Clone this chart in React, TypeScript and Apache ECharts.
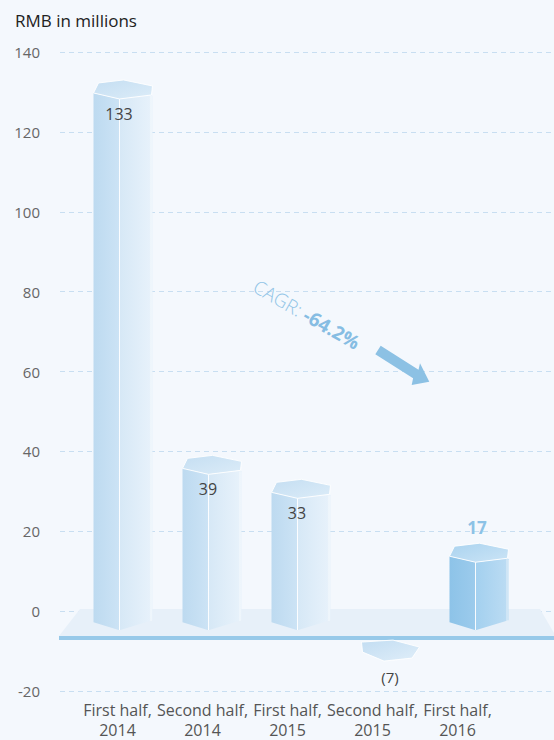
import React, { useEffect, useRef } from 'react';
import * as echarts from 'echarts';

const categories = [
  'First half,\n2014',
  'Second half,\n2014',
  'First half,\n2015',
  'Second half,\n2015',
  'First half,\n2016',
];
const values = [133, 39, 33, -7, 17];
const valueLabels = ['133', '39', '33', '(7)', '17'];
const highlightIndex = 4;
const yMin = -20;
const yMax = 140;
const yInterval = 20;
const axisTitle = 'RMB in millions';
const cagrText = 'CAGR: ';
const cagrValue = '-64.2%';

const FONT = "'Open Sans', 'Noto Sans', sans-serif";

function lg(x2: number, y2: number, c1: string, c2: string) {
  return new echarts.graphic.LinearGradient(0, 0, x2, y2, [
    { offset: 0, color: c1 },
    { offset: 1, color: c2 },
  ]);
}

export default function App() {
  const ref = useRef<HTMLDivElement>(null);
  useEffect(() => {
    if (!ref.current) return;
    const chart = echarts.init(ref.current, null, { renderer: 'svg' });
    const renderItem = (params: any, api: any) => {
      const idx = api.value(0);
      const v = api.value(1);
      const p = api.coord([idx, v]);
      const cx = p[0];
      const T = p[1];
      const y0 = api.coord([idx, 0])[1];
      const hl = idx === highlightIndex;
      const L = cx - 29.5;
      const R = cx + 29.5;
      const M = cx - 3.5;
      const children: any[] = [];
      const edge = { stroke: 'rgba(255,255,255,0.9)', lineWidth: 1 };
      if (v >= 0) {
        const B = y0 + 19;
        const leftFill = hl ? lg(1, 0, '#8dc3e8', '#9ccbec') : lg(1, 0, '#bddaf0', '#cce3f5');
        const rightFill = hl ? lg(1, 0, '#a3d0ef', '#bcdcf3') : lg(1, 0, '#d6e8f6', '#e8f2fb');
        const topFill = hl ? lg(1, 1, '#aad3ef', '#cbe4f6') : lg(1, 1, '#c4def2', '#dcecf8');
        children.push({
          type: 'polygon',
          shape: { points: [[L, T + 13], [M, T + 19], [M, B], [L, B - 8]] },
          style: { fill: leftFill },
        });
        children.push({
          type: 'polygon',
          shape: { points: [[M, T + 19], [R - 1, T + 15], [R, T + 16], [R, B - 10], [M, B]] },
          style: { fill: rightFill },
        });
        children.push({
          type: 'line',
          shape: { x1: M, y1: T + 19, x2: M, y2: B },
          style: edge,
        });
        children.push({
          type: 'line',
          shape: { x1: R - 1.5, y1: T + 16, x2: R - 1.5, y2: B - 9 },
          style: { stroke: 'rgba(255,255,255,0.6)', lineWidth: 1 },
        });
        children.push({
          type: 'polygon',
          shape: {
            points: [[L, T + 13], [L + 5, T + 3], [L + 30, T], [R, T + 6], [R - 1, T + 15], [M, T + 19]],
          },
          style: { fill: topFill, stroke: 'rgba(255,255,255,0.9)', lineWidth: 1 },
        });
        if (hl) {
          children.push({
            type: 'text',
            x: cx - 2,
            y: T - 16,
            style: {
              text: valueLabels[idx],
              fill: '#8cc2e6',
              font: `bold 17px ${FONT}`,
              align: 'center',
              verticalAlign: 'middle',
            },
          });
        } else {
          children.push({
            type: 'text',
            x: cx - 4,
            y: T + 34,
            style: {
              text: valueLabels[idx],
              fill: '#444444',
              font: `16px ${FONT}`,
              align: 'center',
              verticalAlign: 'middle',
            },
          });
        }
      } else {
        children.push({
          type: 'polygon',
          shape: {
            points: [[L + 1, T + 3], [L + 2, T + 13], [cx - 6, T + 22], [cx + 22, T + 19], [R, T + 8], [cx + 3, T + 1]],
          },
          style: { fill: lg(1, 1, '#c2ddf2', '#e0eef9'), stroke: 'rgba(255,255,255,0.9)', lineWidth: 1 },
        });
        children.push({
          type: 'text',
          x: cx,
          y: T + 38,
          style: {
            text: valueLabels[idx],
            fill: '#444444',
            font: `15px ${FONT}`,
            align: 'center',
            verticalAlign: 'middle',
          },
        });
      }
      return { type: 'group', children };
    };

    chart.setOption({
      animation: false,
      backgroundColor: '#f4f8fd',
      textStyle: { fontFamily: FONT },
      title: {
        text: axisTitle,
        left: 10,
        top: 7,
        textStyle: { fontSize: 17, color: '#222222', fontWeight: 'normal', fontFamily: FONT },
      },
      grid: [
        { left: 60, right: 0, top: 52, bottom: 49 },
        { left: 78.5, right: 30.5, top: 52, bottom: 49 },
        { left: 75, right: 54, top: 52, bottom: 49 },
      ],
      xAxis: [
        { type: 'category', gridIndex: 0, data: categories, show: false },
        { type: 'category', gridIndex: 1, data: categories, show: false },
        {
          type: 'category',
          gridIndex: 2,
          data: categories,
          axisLine: { show: false },
          axisTick: { show: false },
          axisLabel: {
            interval: 0,
            margin: 10,
            fontSize: 16,
            lineHeight: 20,
            color: '#555555',
            fontFamily: FONT,
          },
        },
      ],
      yAxis: [
        {
          type: 'value',
          gridIndex: 0,
          min: yMin,
          max: yMax,
          interval: yInterval,
          axisLine: { show: false },
          axisTick: { show: false },
          axisLabel: { margin: 20, fontSize: 15, color: '#666666', fontFamily: FONT },
          splitLine: { lineStyle: { color: '#c8def1', type: [5, 4], width: 1 } },
        },
        { type: 'value', gridIndex: 1, min: yMin, max: yMax, interval: yInterval, show: false, splitLine: { show: false } },
        { type: 'value', gridIndex: 2, min: yMin, max: yMax, interval: yInterval, show: false, splitLine: { show: false } },
      ],
      graphic: [
        {
          type: 'polygon',
          z: 1,
          shape: { points: [[80, 609], [540, 609], [554, 633], [554, 636], [59, 636]] },
          style: { fill: '#e7f0f9' },
        },
        {
          type: 'rect',
          z: 1,
          shape: { x: 59, y: 636, width: 495, height: 4 },
          style: { fill: '#97c9e9' },
        },
        {
          type: 'polygon',
          z: 5,
          shape: {
            points: [
              [375.3, 354.2],
              [413.1, 378.2],
              [411.7, 385],
              [429.3, 381.7],
              [420, 363.3],
              [418.5, 369.8],
              [380.7, 345.8],
            ],
          },
          style: { fill: '#8cc1e4' },
        },
        {
          type: 'text',
          z: 5,
          x: 255,
          y: 285,
          rotation: -0.52,
          style: {
            text: `{a|${cagrText}}{b|${cagrValue}}`,
            align: 'left',
            verticalAlign: 'middle',
            fill: '#8cc1e4',
            rich: {
              a: { fontSize: 19, fill: '#92c5e7', fontFamily: FONT, fontWeight: 300 },
              b: { fontSize: 19, fill: '#86bde3', fontFamily: FONT, fontWeight: 'bold' },
            },
          },
        },
      ],
      series: [
        {
          type: 'custom',
          xAxisIndex: 1,
          yAxisIndex: 1,
          z: 3,
          renderItem,
          data: values.map((v, i) => [i, v]),
        },
      ],
    });
    return () => chart.dispose();
  }, []);
  return (
    <div
      ref={ref}
      style={{ position: 'absolute', left: 0, top: 0, width: 554, height: 740 }}
    />
  );
}
